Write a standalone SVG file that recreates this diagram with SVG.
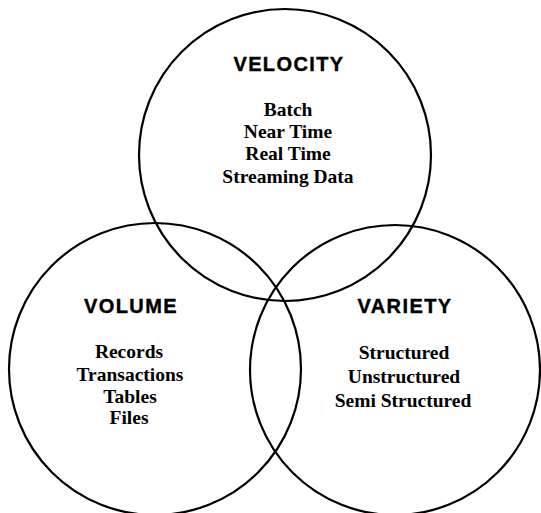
<svg xmlns="http://www.w3.org/2000/svg" width="541" height="513" viewBox="0 0 541 513">
<style>
.c{fill:none;stroke:#000;stroke-width:2.2}
.h{font-family:"Liberation Sans",Arial,sans-serif;font-weight:bold;font-size:20px;letter-spacing:1.4px;text-anchor:middle;fill:#000;stroke:#000;stroke-width:0.4}
.t{font-family:"Liberation Serif","Times New Roman",serif;font-weight:bold;font-size:19.5px;text-anchor:middle;fill:#000}
</style>
<rect width="541" height="513" fill="#fff"/>
<g id="velocity">
<circle class="c" cx="285" cy="155" r="146"/>
<text class="h" x="289" y="71">VELOCITY</text>
<text class="t" x="288" y="116">Batch</text>
<text class="t" x="288" y="138">Near Time</text>
<text class="t" x="288" y="160">Real Time</text>
<text class="t" x="288" y="183">Streaming Data</text>
</g>
<g id="volume">
<circle class="c" cx="155" cy="369" r="146"/>
<text class="h" x="131" y="313">VOLUME</text>
<text class="t" x="129" y="358">Records</text>
<text class="t" x="130" y="381">Transactions</text>
<text class="t" x="130" y="403">Tables</text>
<text class="t" x="129" y="424">Files</text>
</g>
<g id="variety">
<circle class="c" cx="395" cy="370" r="145"/>
<text class="h" x="405" y="313">VARIETY</text>
<text class="t" x="404" y="359">Structured</text>
<text class="t" x="404" y="383">Unstructured</text>
<text class="t" x="403" y="407">Semi Structured</text>
</g>
<g id="connectors"></g>
</svg>
